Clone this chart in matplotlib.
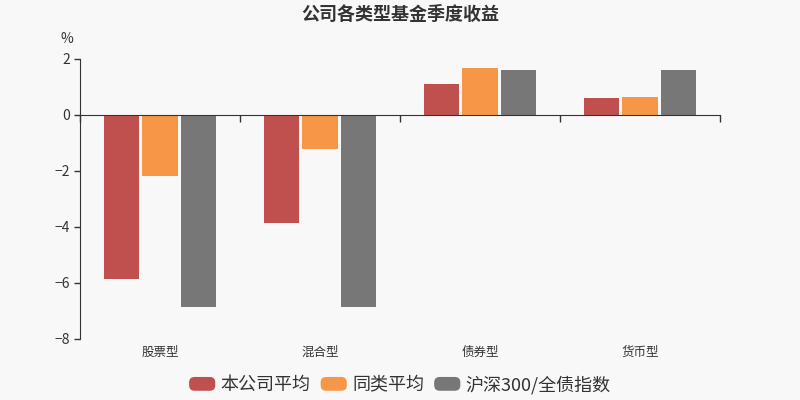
import matplotlib
matplotlib.use("Agg")
import matplotlib.pyplot as plt
from matplotlib.patches import FancyBboxPatch, Patch
from matplotlib.legend_handler import HandlerPatch
import numpy as np

plt.rcParams['font.family'] = ['Noto Sans CJK SC', 'DejaVu Sans']

categories = ["股票型", "混合型", "债券型", "货币型"]
series_names = ["本公司平均", "同类平均", "沪深300/全债指数"]
company_avg = [-5.86, -3.86, 1.11, 0.61]
peer_avg = [-2.18, -1.21, 1.68, 0.63]
index_ret = [-6.86, -6.86, 1.62, 1.62]
colors = ["#c0504d", "#f79646", "#777777"]

bg = "#f8f8f8"
fig = plt.figure(figsize=(8, 4), dpi=100, facecolor=bg)
ax = fig.add_axes([0.1, 0.1525, 0.8, 0.7])
ax.set_facecolor(bg)

x = np.arange(len(categories))
w = 0.219
step = 0.241
for i, (vals, name) in enumerate(zip([company_avg, peer_avg, index_ret], series_names)):
    ax.bar(x + (i - 1) * step, vals, width=w, color=colors[i], label=name, zorder=2)

ax.set_xlim(-0.5, len(categories) - 0.5)
ax.set_ylim(-8, 2)
ax.set_yticks([-8, -6, -4, -2, 0, 2])
ax.set_yticklabels(["−8", "−6", "−4", "−2", "0", "2"])
ax.tick_params(axis='y', colors="#333333", labelsize=10, length=4, width=1, pad=3)

for s in ["top", "right"]:
    ax.spines[s].set_visible(False)
ax.spines["left"].set_color("#333333")
ax.spines["bottom"].set_position(("data", 0))
ax.spines["bottom"].set_color("#333333")
ax.spines["bottom"].set_zorder(3)

ax.set_xticks(np.arange(len(categories) + 1) - 0.5)
ax.set_xticklabels([])
ax.tick_params(axis='x', length=5, width=1, colors="#333333")

for xi, c in zip(x, categories):
    ax.text(xi, -8.25, c, ha="center", va="top", fontsize=9, color="#333333")

ax.text(-0.02, 1.045, "%", transform=ax.transAxes, ha="center", va="bottom",
        fontsize=10, color="#333333")
fig.text(0.5, 0.965, "公司各类型基金季度收益", ha="center", va="center",
         fontsize=13, fontweight="bold", color="#333333")


class RoundHandler(HandlerPatch):
    def create_artists(self, legend, orig_handle, xdescent, ydescent, width, height, fontsize, trans):
        p = FancyBboxPatch((-xdescent, -ydescent), width, height,
                           boxstyle="round,pad=0,rounding_size=%f" % (height * 0.4),
                           facecolor=orig_handle.get_facecolor(), edgecolor="none",
                           transform=trans)
        return [p]


handles = [Patch(facecolor=c) for c in colors]
leg = fig.legend(handles, series_names, loc="center", bbox_to_anchor=(0.5, 0.038), ncol=3, frameon=False,
                 fontsize=13, handlelength=1.45, handleheight=0.8, handletextpad=0.3,
                 columnspacing=0.55,
                 handler_map={Patch: RoundHandler()})
for t in leg.get_texts():
    t.set_color("#333333")

fig.savefig("out.png", dpi=100, facecolor=bg)
